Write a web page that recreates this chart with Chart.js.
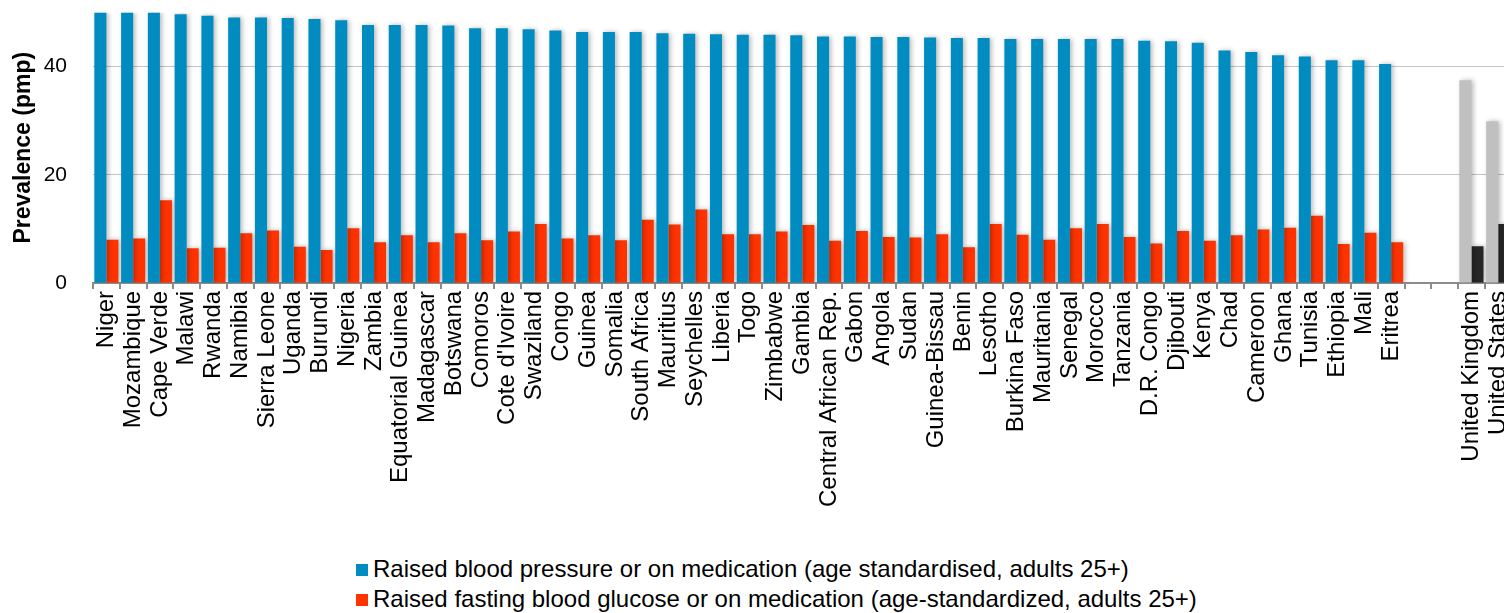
<!DOCTYPE html>
<html>
<head>
<meta charset="utf-8">
<script src="https://cdn.jsdelivr.net/npm/chart.js@4"></script>
<style>
  html, body { margin: 0; padding: 0; background: #fff; overflow: hidden; width: 1504px; height: 613px; }
  #wrap { position: absolute; left: 0; top: -26px; width: 1529px; height: 535px; }
  #legend { position: absolute; left: 356px; top: 554px; font-family: 'Liberation Sans', Arial, sans-serif; font-size: 24px; color: #000; line-height: 30px; white-space: nowrap; }
  #legend span.box { display: inline-block; width: 12px; height: 12px; margin-right: 5px; vertical-align: 1px; }
</style>
</head>
<body>
<div id="wrap"><canvas id="chart"></canvas></div>
<div id="legend"></div>
<script>
const countries = ['Niger', 'Mozambique', 'Cape Verde', 'Malawi', 'Rwanda', 'Namibia', 'Sierra Leone', 'Uganda',
  'Burundi', 'Nigeria', 'Zambia', 'Equatorial Guinea', 'Madagascar', 'Botswana', 'Comoros', "Cote d'Ivoire",
  'Swaziland', 'Congo', 'Guinea', 'Somalia', 'South Africa', 'Mauritius', 'Seychelles', 'Liberia', 'Togo',
  'Zimbabwe', 'Gambia', 'Central African Rep.', 'Gabon', 'Angola', 'Sudan', 'Guinea-Bissau', 'Benin', 'Lesotho',
  'Burkina Faso', 'Mauritania', 'Senegal', 'Morocco', 'Tanzania', 'D.R. Congo', 'Djibouti', 'Kenya', 'Chad',
  'Cameroon', 'Ghana', 'Tunisia', 'Ethiopia', 'Mali', 'Eritrea'];
const comparators = ['United Kingdom', 'United States'];

const bloodPressure = [50, 50, 50, 49.7, 49.4, 49.1, 49.1, 49.0, 48.8, 48.6,
  47.7, 47.7, 47.7, 47.6, 47.1, 47.1, 46.9, 46.7, 46.4, 46.4,
  46.4, 46.2, 46.1, 46.0, 45.9, 45.9, 45.8, 45.6, 45.6, 45.5,
  45.5, 45.4, 45.3, 45.3, 45.1, 45.1, 45.1, 45.1, 45.1, 44.8,
  44.7, 44.4, 43.0, 42.7, 42.1, 41.9, 41.2, 41.2, 40.5];
const bloodGlucose = [8.0, 8.2, 15.3, 6.4, 6.5, 9.2, 9.7, 6.7, 6.1, 10.1,
  7.5, 8.8, 7.5, 9.2, 7.9, 9.5, 10.9, 8.2, 8.8, 7.9,
  11.7, 10.8, 13.6, 9.0, 9.0, 9.5, 10.7, 7.8, 9.6, 8.5,
  8.4, 9.0, 6.6, 10.9, 8.9, 8.0, 10.1, 10.9, 8.5, 7.3,
  9.6, 7.8, 8.8, 9.9, 10.2, 12.4, 7.2, 9.3, 7.5];
const compPressure = [37.5, 29.9];
const compGlucose = [6.8, 10.9];

const seriesNames = [
  'Raised blood pressure or on medication (age standardised, adults 25+)',
  'Raised fasting blood glucose or on medication (age-standardized, adults 25+)'
];

const BLUE = '#008cc1', RED = '#ff3300', LIGHT = '#c0c0c0', DARK = '#262626';

// two empty slots separate the African countries from the comparators
const labels = countries.concat(['', ''], comparators);
const pressureData = bloodPressure.concat([null, null], compPressure);
const glucoseData = bloodGlucose.concat([null, null], compGlucose);
const pressureColors = labels.map((l, i) => i < countries.length ? BLUE : LIGHT);
const glucoseColors = labels.map((l, i) => i < countries.length ? RED : DARK);

const barShadow = {
  id: 'barShadow',
  beforeDatasetsDraw(chart) {
    const c = chart.ctx;
    c.save();
    c.shadowColor = 'rgba(0,0,0,0.28)';
    c.shadowBlur = 5;
    c.shadowOffsetX = 2;
    c.shadowOffsetY = 0;
  },
  afterDatasetsDraw(chart) {
    chart.ctx.restore();
  }
};

const FONT = "'Liberation Sans', Arial, sans-serif";

new Chart(document.getElementById('chart'), {
  type: 'bar',
  data: {
    labels: labels,
    datasets: [
      { label: seriesNames[0], data: pressureData, backgroundColor: pressureColors },
      { label: seriesNames[1], data: glucoseData, backgroundColor: glucoseColors }
    ]
  },
  options: {
    responsive: true,
    maintainAspectRatio: false,
    animation: false,
    categoryPercentage: 0.9,
    barPercentage: 1.0,
    layout: { padding: { top: 0, left: 10, right: 0, bottom: 0 } },
    scales: {
      x: {
        grid: { drawOnChartArea: false, drawTicks: true, tickLength: 6, tickColor: '#8c8c8c', lineWidth: 2 },
        border: { display: true, color: '#8c8c8c', width: 2 },
        ticks: {
          autoSkip: false, maxRotation: 90, minRotation: 90, padding: 2,
          color: '#000', font: { family: FONT, size: 24 }
        }
      },
      y: {
        min: 0, max: 50,
        afterFit: scale => { scale.width = 83; },
        border: { display: false },
        grid: {
          drawTicks: false,
          color: ctx => ctx.tick.value === 0 ? 'rgba(0,0,0,0)' : '#c4c4c4'
        },
        ticks: {
          stepSize: 20, includeBounds: false, padding: 26,
          color: '#000', font: { family: FONT, size: 21 }
        },
        title: {
          display: true, text: 'Prevalence (pmp)', color: '#000', padding: 0,
          font: { family: FONT, size: 23, weight: 'bold' }
        }
      }
    },
    plugins: {
      legend: { display: false },
      tooltip: { enabled: false }
    }
  },
  plugins: [barShadow]
});

const legendEl = document.getElementById('legend');
seriesNames.forEach((name, i) => {
  const row = document.createElement('div');
  const box = document.createElement('span');
  box.className = 'box';
  box.style.background = i === 0 ? BLUE : RED;
  row.appendChild(box);
  row.appendChild(document.createTextNode(name));
  legendEl.appendChild(row);
});
</script>
</body>
</html>
